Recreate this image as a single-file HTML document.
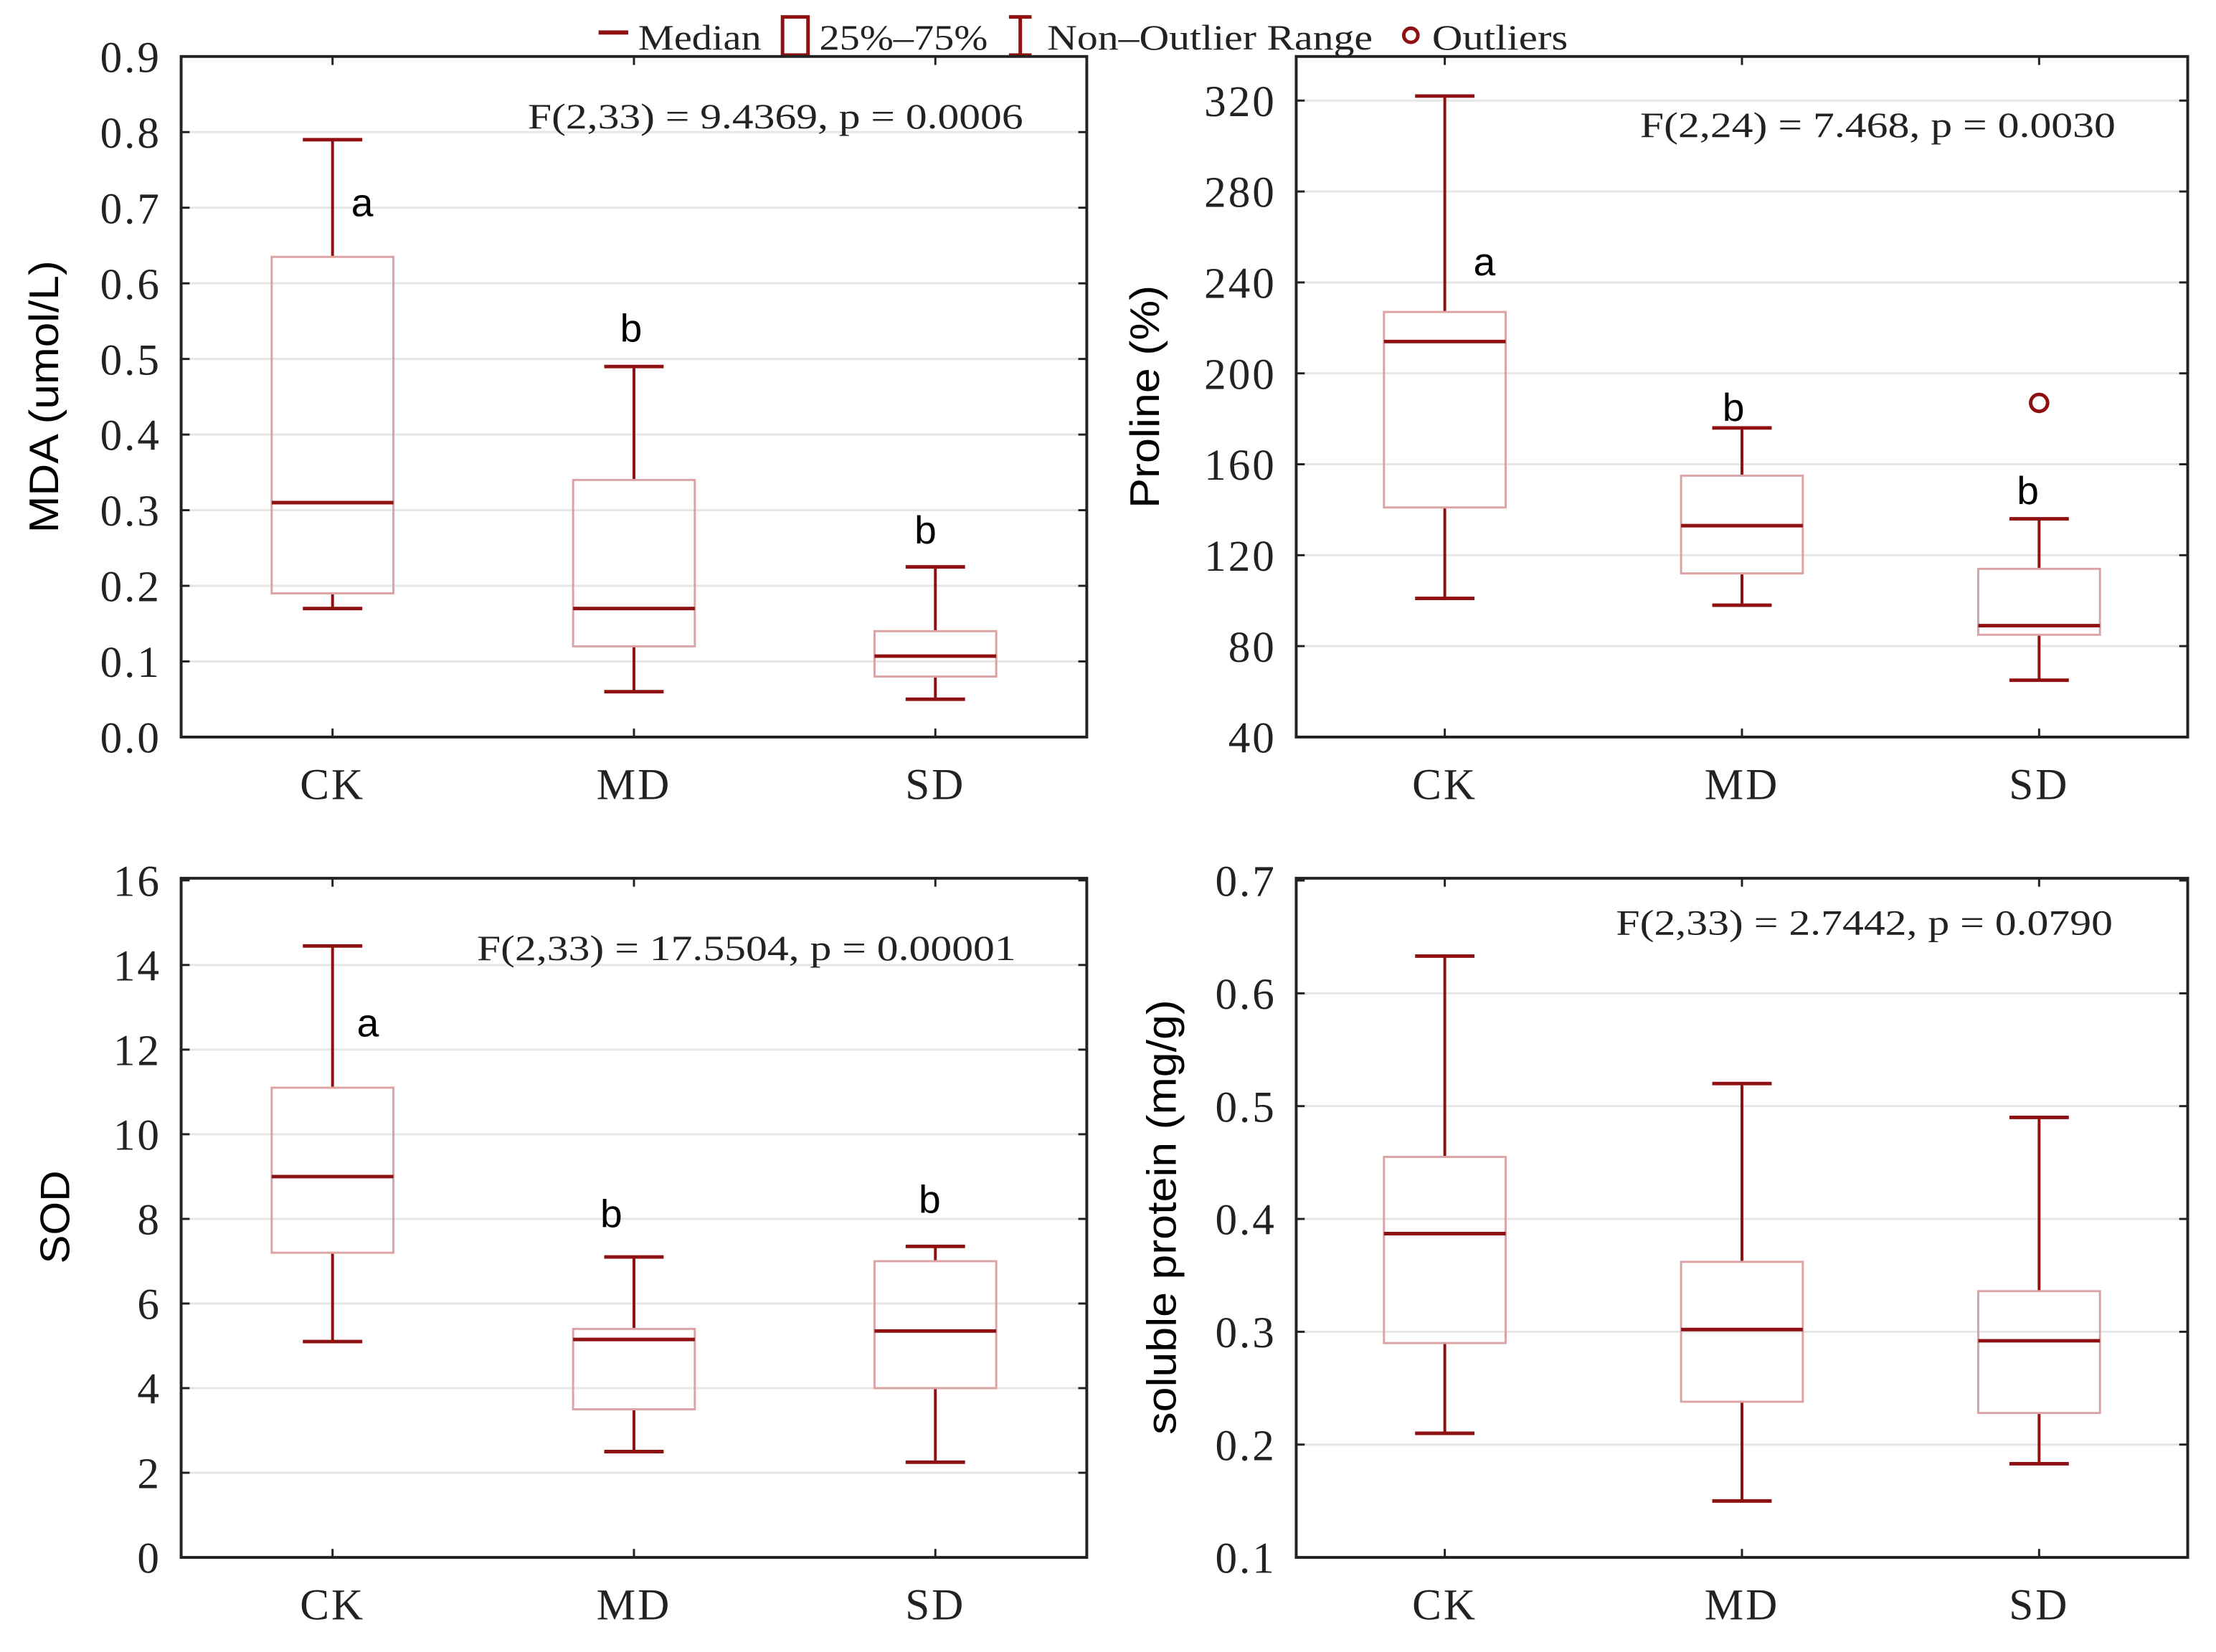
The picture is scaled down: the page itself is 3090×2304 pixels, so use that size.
<!DOCTYPE html>
<html><head><meta charset="utf-8"><style>
html,body{margin:0;padding:0;background:#fff;}
svg{display:block;}
.tk{font-family:"Liberation Serif",serif;font-size:31px;fill:#222;letter-spacing:1.5px;}
.st{font-family:"Liberation Serif",serif;font-size:25px;fill:#222;}
.lt{font-family:"Liberation Sans",sans-serif;font-size:28px;fill:#000;}
.yt{font-family:"Liberation Sans",sans-serif;font-size:29px;fill:#000;}
</style></head><body>
<svg id="chart" width="3090" height="2304" viewBox="0 0 1566 1170" preserveAspectRatio="none" xmlns="http://www.w3.org/2000/svg">
<g id="legend">
 <line x1="423" y1="23" x2="444" y2="23" stroke="#8e1010" stroke-width="3"/>
 <text class="st" x="451" y="35" textLength="87" lengthAdjust="spacingAndGlyphs">Median</text>
 <rect x="553" y="12" width="18" height="27" fill="none" stroke="#8e1010" stroke-width="2.5"/>
 <text class="st" x="579" y="35" textLength="119" lengthAdjust="spacingAndGlyphs">25%–75%</text>
 <path d="M713 12h16M721 12v27M713 39h16" stroke="#8e1010" stroke-width="2.5" fill="none"/>
 <text class="st" x="740" y="35" textLength="230" lengthAdjust="spacingAndGlyphs">Non–Outlier Range</text>
 <circle cx="997" cy="25" r="5" fill="none" stroke="#8e1010" stroke-width="2.5"/>
 <text class="st" x="1012" y="35" textLength="96" lengthAdjust="spacingAndGlyphs">Outliers</text>
</g>
</svg>
<script>
const categories = ["CK","MD","SD"];
// MDA
const mdaMin=[0.17,0.06,0.05], mdaQ1=[0.19,0.12,0.08], mdaMed=[0.31,0.17,0.107], mdaQ3=[0.635,0.34,0.14], mdaMax=[0.79,0.49,0.225];
const mdaTicks=[0,0.1,0.2,0.3,0.4,0.5,0.6,0.7,0.8,0.9];
const mdaLetters=["a","b","b"];
// Proline
const proMin=[101,98,65], proQ1=[141,112,85], proMed=[214,133,89], proQ3=[227,155,114], proMax=[322,176,136];
const proOutliers=[null,null,187];
const proTicks=[40,80,120,160,200,240,280,320];
const proLetters=["a","b","b"];
// SOD
const sodMin=[5.1,2.5,2.25], sodQ1=[7.2,3.5,4.0], sodMed=[9.0,5.15,5.35], sodQ3=[11.1,5.4,7.0], sodMax=[14.45,7.1,7.35];
const sodTicks=[0,2,4,6,8,10,12,14,16];
const sodLetters=["a","b","b"];
// Soluble protein
const spMin=[0.21,0.15,0.183], spQ1=[0.29,0.238,0.228], spMed=[0.387,0.302,0.292], spQ3=[0.455,0.362,0.336], spMax=[0.633,0.52,0.49];
const spTicks=[0.1,0.2,0.3,0.4,0.5,0.6,0.7];
const spLetters=[];

const NS="http://www.w3.org/2000/svg";
const svg=document.getElementById('chart');
function mk(tag,attrs,parent,txt){const e=document.createElementNS(NS,tag);for(const k in attrs)e.setAttribute(k,attrs[k]);if(txt!==undefined)e.textContent=txt;parent.appendChild(e);return e;}
const DR="#8e1010", PK="#dba3a3";

function panel(cfg){
 const g=mk('g',{},svg);
 
 
 const {x0,x1,y0,y1,vmin,vmax}=cfg;
 const Y=v=>y1-(v-vmin)/(vmax-vmin)*(y1-y0);
 const X=i=>cfg.cx[i];
 cfg.ticks.forEach((t,i)=>{
  const y=Y(t);
  if(y>y0+2&&y<y1-2){const gl=mk('line',{x1:x0,x2:x1,y1:y,y2:y,stroke:'#e6e6e6','stroke-width':1.5},g);
   }
  mk('line',{x1:x0,x2:x0+6,y1:y,y2:y,stroke:'#222','stroke-width':1.5},g);
  mk('line',{x1:x1-6,x2:x1,y1:y,y2:y,stroke:'#222','stroke-width':1.5},g);
  const tl=mk('text',{class:'tk',x:x0-14,y:y+11,'text-anchor':'end'},g,cfg.fmt(t));
  
  
 });
 categories.forEach((c,i)=>{
  const x=X(i);
  mk('line',{x1:x,x2:x,y1:y1,y2:y1-6,stroke:'#222','stroke-width':1.5},g);
  mk('line',{x1:x,x2:x,y1:y0,y2:y0+6,stroke:'#222','stroke-width':1.5},g);
  const cl=mk('text',{class:'tk',x:x,y:y1+44,'text-anchor':'middle'},g,c);
  
  
  const bg=mk('g',{},g);
  
  
  const hw=43, cw=21;
  mk('line',{x1:x,x2:x,y1:Y(cfg.max[i]),y2:Y(cfg.q3[i]),stroke:DR,'stroke-width':2},bg);
  mk('line',{x1:x,x2:x,y1:Y(cfg.q1[i]),y2:Y(cfg.min[i]),stroke:DR,'stroke-width':2},bg);
  mk('line',{x1:x-cw,x2:x+cw,y1:Y(cfg.max[i]),y2:Y(cfg.max[i]),stroke:DR,'stroke-width':2.5},bg);
  mk('line',{x1:x-cw,x2:x+cw,y1:Y(cfg.min[i]),y2:Y(cfg.min[i]),stroke:DR,'stroke-width':2.5},bg);
  mk('rect',{x:x-hw,y:Y(cfg.q3[i]),width:2*hw,height:Y(cfg.q1[i])-Y(cfg.q3[i]),fill:'none',stroke:PK,'stroke-width':1.5},bg);
  mk('line',{x1:x-hw,x2:x+hw,y1:Y(cfg.med[i]),y2:Y(cfg.med[i]),stroke:DR,'stroke-width':2.5},bg);
  if(cfg.out&&cfg.out[i]!=null){const o=mk('circle',{cx:x,cy:Y(cfg.out[i]),r:6,fill:'none',stroke:DR,'stroke-width':2.5},g);
   }
  if(cfg.letters[i]){const l=mk('text',{class:'lt',x:cfg.lx[i],y:cfg.ly[i],'text-anchor':'middle'},g,cfg.letters[i]);
   }
 });
 const fr=mk('rect',{x:x0,y:y0,width:x1-x0,height:y1-y0,fill:'none',stroke:'#222','stroke-width':2},g);
 
 const s=mk('text',{class:'st',x:cfg.sx,y:cfg.sy,textLength:cfg.sw,lengthAdjust:'spacingAndGlyphs'},g,cfg.stat);
 
 const yt=mk('text',{class:'yt',transform:`translate(${cfg.tx},${cfg.ty}) rotate(-90)`,'text-anchor':'middle',textLength:cfg.tl,lengthAdjust:'spacingAndGlyphs'},g,cfg.title);
 
}
const f1=t=>t.toFixed(1), f0=t=>String(t);
panel({name:'mda',x0:128,x1:768,y0:40,y1:522,vmin:0,vmax:0.9,cx:[235,448,661],ticks:mdaTicks,fmt:f1,
 min:mdaMin,q1:mdaQ1,med:mdaMed,q3:mdaQ3,max:mdaMax,letters:mdaLetters,lx:[256,446,654],ly:[153,242,385],
 stat:'F(2,33) = 9.4369, p = 0.0006',sx:373,sy:91,sw:350,title:'MDA (umol/L)',tx:41,ty:281,tl:193});
panel({name:'proline',x0:916,x1:1546,y0:40,y1:522,vmin:40,vmax:339.4,cx:[1021,1231,1441],ticks:proTicks,fmt:f0,
 min:proMin,q1:proQ1,med:proMed,q3:proQ3,max:proMax,out:proOutliers,letters:proLetters,lx:[1049,1225,1433],ly:[195,298,357],
 stat:'F(2,24) = 7.468, p = 0.0030',sx:1159,sy:97,sw:336,title:'Proline (%)',tx:819,ty:281,tl:158});
panel({name:'sod',x0:128,x1:768,y0:622,y1:1103,vmin:0,vmax:16.05,cx:[235,448,661],ticks:sodTicks,fmt:f0,
 min:sodMin,q1:sodQ1,med:sodMed,q3:sodQ3,max:sodMax,letters:sodLetters,lx:[260,432,657],ly:[734,869,859],
 stat:'F(2,33) = 17.5504, p = 0.00001',sx:337,sy:680,sw:381,title:'SOD',tx:49,ty:862,tl:66});
panel({name:'soluble-protein',x0:916,x1:1546,y0:622,y1:1103,vmin:0.1,vmax:0.702,cx:[1021,1231,1441],ticks:spTicks,fmt:f1,
 min:spMin,q1:spQ1,med:spMed,q3:spQ3,max:spMax,letters:spLetters,lx:[],ly:[],
 stat:'F(2,33) = 2.7442, p = 0.0790',sx:1142,sy:662,sw:351,title:'soluble protein (mg/g)',tx:831,ty:862,tl:308});
</script>
</body></html>
